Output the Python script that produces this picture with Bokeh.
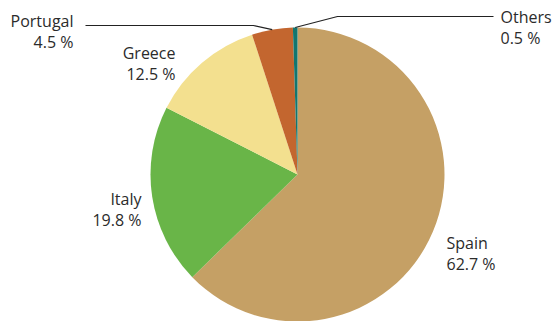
import math
from bokeh.plotting import figure
from bokeh.models import Range1d
from bokeh.core.properties import value
from bokeh.embed import file_html
from bokeh.resources import INLINE

countries = ["Spain", "Italy", "Greece", "Portugal", "Others"]
shares = [62.7, 19.8, 12.5, 4.5, 0.5]
colors = ["#C5A065", "#69B548", "#F3E08F", "#C3662F", "#12766F"]

W, H = 559, 321
# data coords: x = ref px, y = -ref px
p = figure(width=W, height=H, output_backend="svg", toolbar_location=None,
           x_range=Range1d(0, W), y_range=Range1d(-H, 0),
           min_border=0, outline_line_color=None)
p.axis.visible = False
p.grid.visible = False
p.background_fill_color = "white"
p.border_fill_color = "white"

cx, cy, r = 297, -174, 147
total = sum(shares)
starts, ends, mids = [], [], []
cum = 0.0
for s in shares:
    a0 = math.pi / 2 - cum / total * 2 * math.pi
    cum += s
    a1 = math.pi / 2 - cum / total * 2 * math.pi
    starts.append(a0)
    ends.append(a1)
    mids.append((a0 + a1) / 2)

p.wedge(x=cx, y=cy, radius=r, start_angle=starts, end_angle=ends,
        direction="clock", fill_color=colors, line_color=None)

font = value("Open Sans")
tc = "#2b2b2b"
fs = "16px"

def lab(x, y, lines, align):
    for i, t in enumerate(lines):
        p.text(x=[x], y=[-(y + i * 21.5)], text=[t], text_align=align,
               text_baseline="middle", text_font=font, text_font_size=fs,
               text_color=tc)

fmt = lambda v: f"{v} %"
lab(446, 242, ["Spain", fmt(shares[0])], "left")
lab(141, 198, ["Italy", fmt(shares[1])], "right")
lab(175, 52, ["Greece", fmt(shares[2])], "right")
lab(73, 20, ["Portugal", fmt(shares[3])], "right")
lab(500, 16, ["Others", fmt(shares[4])], "left")

# leader lines
def edge(i, rr=r):
    return cx + rr * math.cos(mids[i]), cy + rr * math.sin(mids[i])

ex, ey = edge(3)
p.line(x=[85, 253, ex], y=[-25, -25, ey], line_color="#222222", line_width=1.2)
ex, ey = edge(4)
p.line(x=[ex, 337, 493], y=[ey, -16, -16], line_color="#222222", line_width=1.2)

open("out.html", "w").write(file_html(p, INLINE))
